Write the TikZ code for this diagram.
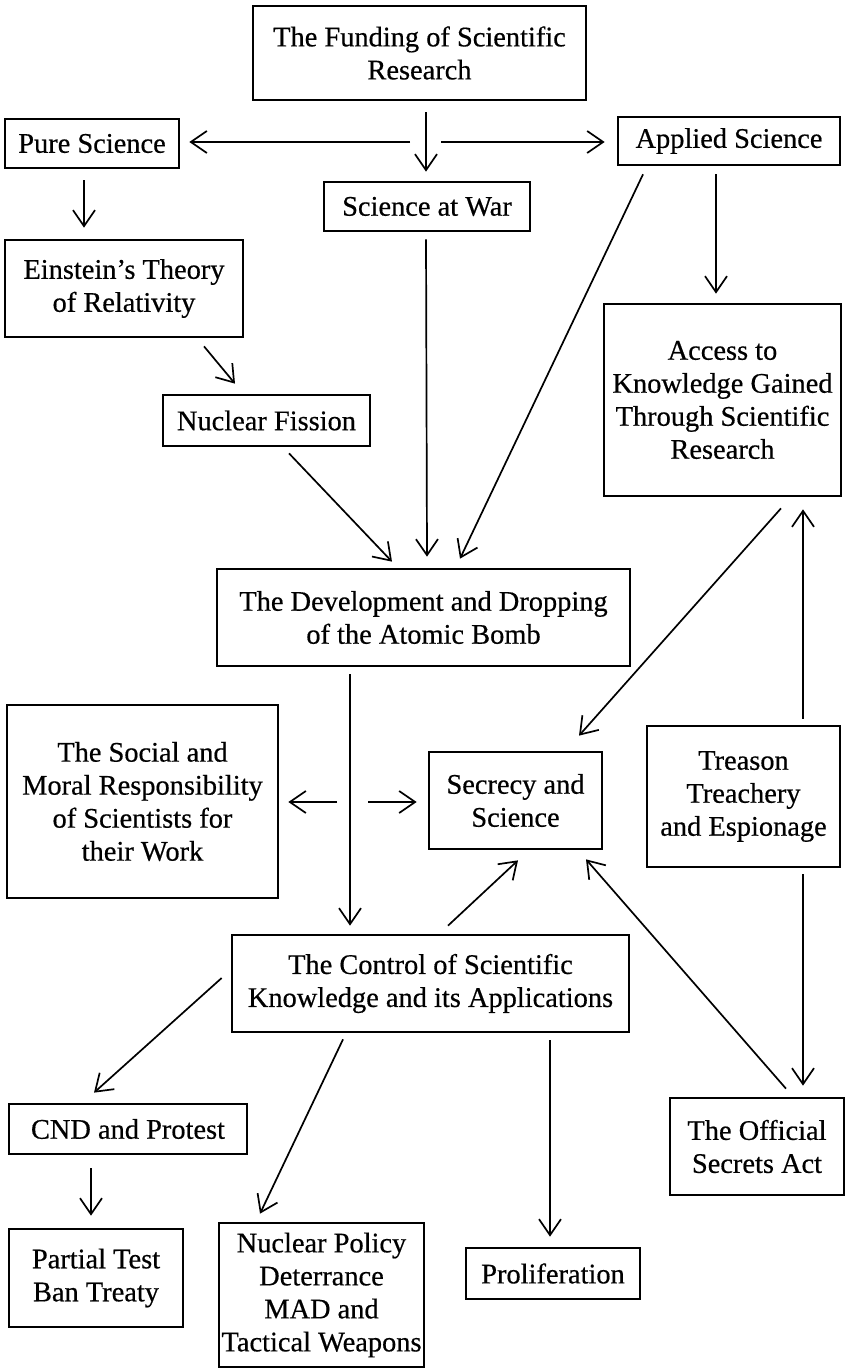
\documentclass[tikz,border=0pt]{standalone}
\usepackage{fontspec}
\setmainfont{Liberation Serif}
\newfontfamily\boxfont{Liberation Serif}[FakeBold=0.5]
\usetikzlibrary{arrows.meta,calc}
\begin{document}
\begin{tikzpicture}[x=0.5pt,y=-0.5pt,
  box/.style={draw, line width=1.35pt, inner sep=0pt, align=center, font={\fontsize{14.2}{16.5}\boxfont}},
  arr/.style={-{Straight Barb[length=8pt,width=11pt]}, line width=0.85pt}]
\useasboundingbox (0,0) rectangle (846,1369);
% nodes
\node[box, minimum width=166.5pt, minimum height=47pt] (fund) at (419.5,53) {The Funding of Scientific\\Research};
\node[box, minimum width=87pt, minimum height=24.5pt] (pure) at (92,143.5) {Pure Science};
\node[box, minimum width=111pt, minimum height=24pt] (appl) at (729,141) {Applied Science};
\node[box, minimum width=103pt, minimum height=24.5pt] (war) at (427,206.5) {Science at War};
\node[box, minimum width=119pt, minimum height=48.5pt] (ein) at (124,288.5) {Einstein’s Theory\\of Relativity};
\node[box, minimum width=103.5pt, minimum height=25.5pt] (fis) at (266.5,420.5) {Nuclear Fission};
\node[box, minimum width=118.5pt, minimum height=96pt] (acc) at (722.5,400) {Access to\\Knowledge Gained\\Through Scientific\\Research};
\node[box, minimum width=206.5pt, minimum height=48.5pt] (dev) at (423.5,617.5) {The Development and Dropping\\of the Atomic Bomb};
\node[box, minimum width=135.5pt, minimum height=96.5pt] (soc) at (142.5,801.5) {The Social and\\Moral Responsibility\\of Scientists for\\their Work};
\node[box, minimum width=86.5pt, minimum height=48.5pt] (sec) at (515.5,800.5) {Secrecy and\\Science};
\node[box, minimum width=96.5pt, minimum height=70.5pt] (tre) at (743.5,796.5) {Treason\\Treachery\\and Espionage};
\node[box, minimum width=198.5pt, minimum height=48.5pt] (con) at (430.5,983.5) {The Control of Scientific\\Knowledge and its Applications};
\node[box, minimum width=119pt, minimum height=25pt] (cnd) at (128,1129) {CND and Protest};
\node[box, minimum width=87pt, minimum height=48.5pt] (off) at (757,1146.5) {The Official\\Secrets Act};
\node[box, minimum width=87pt, minimum height=49pt] (pt) at (96,1278) {Partial Test\\Ban Treaty};
\node[box, minimum width=102.5pt, minimum height=72pt] (np) at (321.5,1295) {Nuclear Policy\\Deterrance\\MAD and\\Tactical Weapons};
\node[box, minimum width=87pt, minimum height=25.5pt] (pro) at (553,1273.5) {Proliferation};
% free points
\coordinate (hub) at (426,142);
\coordinate (stem) at (350,802);
% connectors
\draw[arr] ($(fund.south)+(6.5,11)$) -- ($(war.north)+(-1,-9)$);
\draw[arr] ($(hub)+(-16,0)$) -- ($(pure.east)+(9,-1.5)$);
\draw[arr] ($(hub)+(15,0)$) -- ($(appl.west)+(-12,1)$);
\draw[arr] ($(pure.south)+(-8,11)$) -- ($(ein.north)+(-40,-11)$);
\draw[arr] ($(ein.south)+(80,8)$) -- ($(fis.north)+(-31.5,-10)$);
\draw[arr] ($(fis.south)+(22.5,6)$) -- ($(dev.north)+(-31.5,-6)$);
\draw[arr] ($(war.south)+(-1,7)$) -- ($(dev.north)+(3.5,-11)$);
\draw[arr] ($(appl.south)+(-86,8)$) -- ($(dev.north)+(36.5,-9)$);
\draw[arr] ($(appl.south)+(-13,8)$) -- ($(acc.north)+(-6.5,-9)$);
\draw[arr] ($(acc.south)+(58.5,11)$) -- ($(sec.north)+(63.5,-15)$);
\draw[arr] ($(tre.north)+(59.5,-6)$) -- ($(acc.south)+(80.5,12)$);
\draw[arr] ($(dev.south)+(-73.5,7)$) -- ($(con.north)+(-80.5,-8)$);
\draw[arr] ($(stem)+(-13,0)$) -- ($(soc.east)+(9,0.5)$);
\draw[arr] ($(stem)+(18,0)$) -- ($(sec.west)+(-11,1.5)$);
\draw[arr] ($(con.north)+(17.5,-8)$) -- ($(sec.south)+(2.5,10)$);
\draw[arr] ($(off.north)+(29,-8)$) -- ($(sec.south)+(70.5,9)$);
\draw[arr] ($(tre.south)+(59.5,6)$) -- ($(off.north)+(46,-11)$);
\draw[arr] ($(con.west)+(-9,-5.5)$) -- ($(cnd.north)+(-34,-10)$);
\draw[arr] ($(cnd.south)+(-37,13)$) -- ($(pt.north)+(-5,-12)$);
\draw[arr] ($(con.south)+(-87.5,6)$) -- ($(np.north)+(-61.5,-8)$);
\draw[arr] ($(con.south)+(119.5,7)$) -- ($(pro.north)+(-3,-10)$);
\end{tikzpicture}
\end{document}
